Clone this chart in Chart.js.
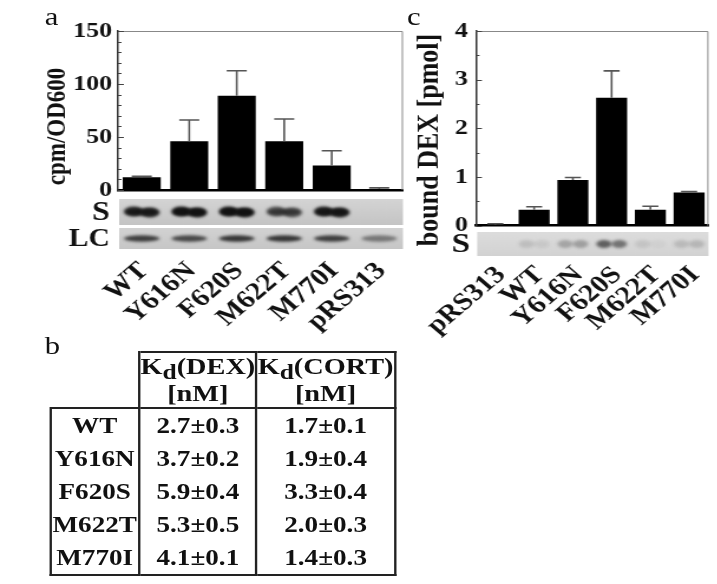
<!DOCTYPE html>
<html>
<head>
<meta charset="utf-8">
<script src="https://cdn.jsdelivr.net/npm/chart.js@4.4.0/dist/chart.umd.min.js"></script>
<style>
  body { margin: 0; background: #fff; }
  #page { position: relative; width: 608px; height: 584px; transform: scaleX(1.18); transform-origin: 0 0;
          font-family: "Liberation Serif", "Times New Roman", serif; color: #111; }
  #chartA { position: absolute; left: 0; top: 0; }
  #chartC { position: absolute; left: 345px; top: 0; }
  .panel { position: absolute; font-size: 26px; line-height: 1; }
  #kd { position: absolute; left: 41.5px; top: 351px; border-collapse: collapse; table-layout: fixed;
        font: bold 23px "Liberation Serif", serif; color: #111; }
  #kd th, #kd td { border: 2px solid #222; padding: 0; text-align: center; white-space: nowrap; }
  #kd th { height: 54px; line-height: 27px; font-size: 24px; }
  #kd th.blank { border-top: none; border-left: none; }
  #kd td { border-top: none; border-bottom: none; height: 33px; line-height: 33px; }
  #kd tr:last-child td { border-bottom: 2px solid #222; }
  #kd sub { font-size: 0.9em; vertical-align: -0.22em; line-height: 0; }
</style>
</head>
<body>
<div id="page">
  <div class="panel" style="left:38px;top:4px">a</div>
  <div class="panel" style="left:345px;top:4px">c</div>
  <div class="panel" style="left:38px;top:333px">b</div>
  <canvas id="chartA" width="350" height="345"></canvas>
  <canvas id="chartC" width="263" height="345"></canvas>
  <table id="kd"></table>
</div>
<script>
// panel a: reporter activity
const catsA = ['WT', 'Y616N', 'F620S', 'M622T', 'M770I', 'pRS313'];
const valsA = [12, 46, 89, 46, 23, 1];
const errA = [1, 20, 23.5, 21, 14, 1];
const majorA = [0, 50, 100, 150];
const sBandA = [0.85, 0.95, 0.95, 0.6, 0.9, 0];   // blot S lane intensity
const lcBandA = [0.75, 0.7, 0.8, 0.8, 0.75, 0.45];  // blot LC lane intensity

// panel c: bound DEX
const catsC = ['pRS313', 'WT', 'Y616N', 'F620S', 'M622T', 'M770I'];
const valsC = [0.02, 0.33, 0.94, 2.63, 0.33, 0.68];
const errC = [0.02, 0.06, 0.05, 0.55, 0.07, 0.02];
const majorC = [0, 1, 2, 3, 4];
const sBandC = [[0, 0], [0.12, 0.07], [0.25, 0.28], [0.6, 0.5], [0.09, 0.03], [0.14, 0.16]];

// panel b: Kd table
const kdRows = ['WT', 'Y616N', 'F620S', 'M622T', 'M770I'];
const kdDex = ['2.7±0.3', '3.7±0.2', '5.9±0.4', '5.3±0.5', '4.1±0.1'];
const kdCort = ['1.7±0.1', '1.9±0.4', '3.3±0.4', '2.0±0.3', '1.4±0.3'];

const serif = '"Liberation Serif", "Times New Roman", serif';
const bold = size => ({ family: serif, weight: 'bold', size });

function errorBars(err, cap) {
  return {
    id: 'errorBars',
    afterDatasetsDraw(chart) {
      const ctx = chart.ctx, y = chart.scales.y;
      const vals = chart.data.datasets[0].data;
      ctx.save();
      ctx.strokeStyle = '#555';
      ctx.lineWidth = 1.6;
      chart.getDatasetMeta(0).data.forEach((bar, i) => {
        const top = y.getPixelForValue(vals[i] + err[i]);
        ctx.beginPath();
        ctx.moveTo(bar.x, bar.y);
        ctx.lineTo(bar.x, top);
        ctx.moveTo(bar.x - cap, top);
        ctx.lineTo(bar.x + cap, top);
        ctx.stroke();
      });
      ctx.restore();
    }
  };
}

// grey frame on top/right, short inner ticks, rotated axis title
function frame(major, title, titleX, titleY, titleSize) {
  return {
    id: 'frame',
    afterDraw(chart) {
      const { ctx, chartArea: a } = chart, y = chart.scales.y;
      ctx.save();
      ctx.strokeStyle = '#888';
      ctx.lineWidth = 1;
      ctx.beginPath();
      ctx.moveTo(a.left, a.top + 0.5);
      ctx.lineTo(a.right - 0.5, a.top + 0.5);
      ctx.lineTo(a.right - 0.5, a.bottom);
      ctx.stroke();
      ctx.strokeStyle = '#444';
      y.ticks.forEach(t => {
        const py = Math.round(y.getPixelForValue(t.value)) + 0.5;
        const len = major.includes(t.value) ? 5 : 3;
        ctx.beginPath();
        ctx.moveTo(a.left, py);
        ctx.lineTo(a.left + len, py);
        ctx.stroke();
      });
      ctx.translate(titleX, titleY);
      ctx.rotate(-Math.PI / 2);
      ctx.font = `bold ${titleSize}px ${serif}`;
      ctx.fillStyle = '#111';
      ctx.textAlign = 'center';
      ctx.textBaseline = 'middle';
      ctx.fillText(title, 0, 0);
      ctx.restore();
    }
  };
}

// category names, rotated 45deg, right end anchored next to each bar
function catLabels(dx, y0, size) {
  return {
    id: 'catLabels',
    afterDraw(chart) {
      const ctx = chart.ctx, x = chart.scales.x;
      ctx.save();
      ctx.font = `bold ${size}px ${serif}`;
      ctx.fillStyle = '#111';
      ctx.textAlign = 'right';
      ctx.textBaseline = 'middle';
      chart.data.labels.forEach((lab, i) => {
        ctx.save();
        ctx.translate(x.getPixelForValue(i) + dx, y0);
        ctx.rotate(-Math.PI / 4);
        ctx.fillText(lab, 0, 0);
        ctx.restore();
      });
      ctx.restore();
    }
  };
}

function blob(ctx, x, y, rx, ry, alpha) {
  if (alpha <= 0) return;
  ctx.fillStyle = `rgba(15,15,15,${alpha})`;
  ctx.beginPath();
  ctx.ellipse(x, y, rx, ry, 0, 0, Math.PI * 2);
  ctx.fill();
}

// western blot strips under the x axis, one lane per category
function blots(strips) {
  return {
    id: 'blots',
    afterDraw(chart) {
      const { ctx, chartArea: a } = chart, x = chart.scales.x;
      ctx.save();
      strips.forEach(s => {
        const g = ctx.createLinearGradient(0, s.top, 0, s.top + s.h);
        g.addColorStop(0, s.bg[0]);
        g.addColorStop(1, s.bg[1]);
        ctx.fillStyle = g;
        ctx.fillRect(a.left + 1, s.top, a.right - a.left - 1, s.h);
        const cy = s.top + s.h / 2;
        ctx.save();
        ctx.filter = 'blur(1.6px)';
        s.bands.forEach((v, i) => {
          const cx = x.getPixelForValue(i);
          if (Array.isArray(v)) {
            blob(ctx, cx - 6.5, cy, 6.5, 4, v[0]);
            blob(ctx, cx + 6.5, cy, 6.5, 4, v[1]);
          } else if (s.lobes) {
            blob(ctx, cx, cy, 14, 3.5, v * 0.85);
            blob(ctx, cx - 7, cy - 0.5, 8, 5, v);
            blob(ctx, cx + 7, cy + 0.5, 8, 5, v);
          } else {
            blob(ctx, cx, cy, 15, 3.2, v);
          }
        });
        ctx.restore();
        ctx.font = `bold ${s.size}px ${serif}`;
        ctx.fillStyle = '#111';
        ctx.textAlign = 'right';
        ctx.textBaseline = 'middle';
        ctx.fillText(s.label, s.labelX, cy + 1);
      });
      ctx.restore();
    }
  };
}

new Chart(document.getElementById('chartA'), {
  type: 'bar',
  data: {
    labels: catsA,
    datasets: [{ data: valsA, backgroundColor: '#000', barPercentage: 0.8, categoryPercentage: 1 }]
  },
  options: {
    responsive: false,
    animation: false,
    layout: { padding: { top: 31, right: 8.5, left: 0, bottom: 0 } },
    plugins: { legend: { display: false }, tooltip: { enabled: false } },
    scales: {
      x: {
        grid: { display: false, drawTicks: false },
        border: { color: '#000', width: 2.5 },
        ticks: { display: false },
        afterFit: s => { s.height = 155; }
      },
      y: {
        min: 0, max: 150,
        grid: { display: false, drawTicks: false },
        border: { color: '#333', width: 1.5 },
        ticks: { stepSize: 10, autoSkip: false, color: '#111', font: bold(22), padding: 5,
                 callback: v => majorA.includes(v) ? v : '' },
        afterFit: s => { s.width = 100; }
      }
    }
  },
  plugins: [
    errorBars(errA, 8.5),
    frame(majorA, 'cpm/OD600', 49, 126.5, 23),
    catLabels(2, 267, 25),
    blots([
      { label: 'S', labelX: 93, size: 27, top: 199, h: 26, bg: ['#d4d4d4', '#c4c4c4'], bands: sBandA, lobes: true },
      { label: 'LC', labelX: 93, size: 25, top: 228, h: 21, bg: ['#d2d2d2', '#c6c6c6'], bands: lcBandA }
    ])
  ]
});

new Chart(document.getElementById('chartC'), {
  type: 'bar',
  data: {
    labels: catsC,
    datasets: [{ data: valsC, backgroundColor: '#000', barPercentage: 0.8, categoryPercentage: 1 }]
  },
  options: {
    responsive: false,
    animation: false,
    layout: { padding: { top: 31, right: 7.6, left: 0, bottom: 0 } },
    plugins: { legend: { display: false }, tooltip: { enabled: false } },
    scales: {
      x: {
        grid: { display: false, drawTicks: false },
        border: { color: '#000', width: 2.5 },
        ticks: { display: false },
        afterFit: s => { s.height = 119.3; }
      },
      y: {
        min: 0, max: 4,
        grid: { display: false, drawTicks: false },
        border: { color: '#333', width: 1.5 },
        ticks: { stepSize: 0.5, autoSkip: false, color: '#111', font: bold(22), padding: 7,
                 callback: v => majorC.includes(v) ? v : '' },
        afterFit: s => { s.width = 58.4; }
      }
    }
  },
  plugins: [
    errorBars(errC, 6.8),
    frame(majorC, 'bound DEX [pmol]', 19.4, 140, 26),
    catLabels(5, 271, 25),
    blots([
      { label: 'S', labelX: 53.3, size: 28, top: 232, h: 24, bg: ['#dcdcdc', '#d2d2d2'], bands: sBandC }
    ])
  ]
});

// Kd table
const table = document.getElementById('kd');
let html = '<colgroup><col style="width:75.5px"><col style="width:94px"><col style="width:112.7px"></colgroup>';
html += '<tr><th class="blank"></th><th>K<sub>d</sub>(DEX)<br>[nM]</th><th>K<sub>d</sub>(CORT)<br>[nM]</th></tr>';
kdRows.forEach((r, i) => {
  html += `<tr><td>${r}</td><td>${kdDex[i]}</td><td>${kdCort[i]}</td></tr>`;
});
table.innerHTML = html;
</script>
</body>
</html>
